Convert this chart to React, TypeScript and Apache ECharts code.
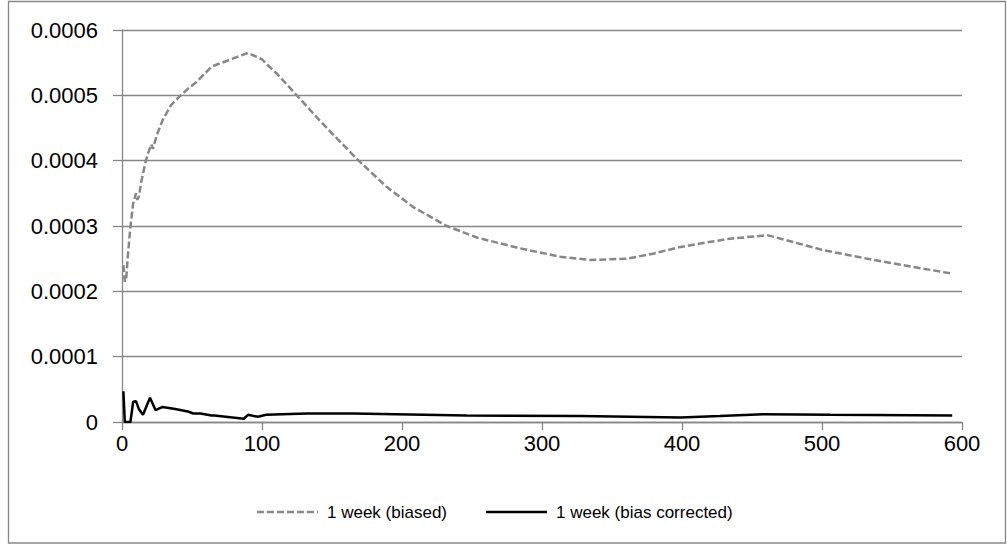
import React, { useEffect, useRef } from "react";
import * as echarts from "echarts";

const biasedX = [1, 2, 3, 4, 6, 8, 10, 11, 12, 14, 17, 20, 21, 22, 25, 29, 35, 41, 47, 53, 64, 90, 100, 112, 124, 141, 154, 169, 189, 208, 232, 254, 284, 313, 334, 361, 380, 399, 432, 461, 501, 537, 593];
const biasedY = [2.4, 2.15, 2.18, 2.5, 2.99, 3.35, 3.5, 3.4, 3.45, 3.7, 4.0, 4.2, 4.25, 4.18, 4.4, 4.62, 4.85, 4.98, 5.1, 5.2, 5.44, 5.65, 5.55, 5.3, 5.02, 4.62, 4.33, 4.0, 3.6, 3.29, 3.0, 2.82, 2.66, 2.53, 2.48, 2.5, 2.58, 2.68, 2.8, 2.86, 2.63, 2.48, 2.27];

const correctedX = [1, 2, 6, 8, 10, 12, 15, 20, 24, 29, 38, 47, 51, 56, 64, 66, 87, 90, 97, 103, 132, 165, 246, 327, 399, 427, 458, 506, 593];
const correctedY = [0.47, 0.0, 0.0, 0.31, 0.32, 0.2, 0.11, 0.37, 0.18, 0.23, 0.2, 0.16, 0.13, 0.13, 0.1, 0.1, 0.05, 0.11, 0.08, 0.11, 0.13, 0.13, 0.1, 0.09, 0.07, 0.09, 0.12, 0.11, 0.1];

const SCALE = 1e-4;
const seriesNames = ["1 week (biased)", "1 week (bias corrected)"];
const xTicks = { min: 0, max: 600, interval: 100 };
const yTicks = { min: 0, max: 0.0006, interval: 0.0001 };

const FONT = "'Liberation Sans', Arial, sans-serif";
const GRID_COLOR = "#868686";
const BIASED_COLOR = "#878787";
const DASH = [7, 3];

export default function App() {
  const ref = useRef<HTMLDivElement>(null);
  useEffect(() => {
    if (!ref.current) return;
    const chart = echarts.init(ref.current, undefined, { renderer: "svg" });
    const biased = biasedX.map((x, i) => [x, biasedY[i] * SCALE]);
    const corrected = correctedX.map((x, i) => [x, correctedY[i] * SCALE]);
    const legendY = 512;
    chart.setOption({
      animation: false,
      backgroundColor: "#ffffff",
      grid: { left: 122, right: 45, top: 30, bottom: 124, containLabel: false },
      graphic: [
        {
          type: "rect",
          shape: { x: 8.5, y: 1.5, width: 997, height: 541.5 },
          style: { fill: "none", stroke: GRID_COLOR, lineWidth: 1.3 },
          silent: true,
          z: -1,
        },
        {
          type: "line",
          shape: { x1: 257, y1: legendY, x2: 318, y2: legendY },
          style: { stroke: BIASED_COLOR, lineWidth: 2.5, lineDash: DASH },
          silent: true,
        },
        {
          type: "text",
          x: 327,
          y: legendY,
          style: {
            text: seriesNames[0],
            fontFamily: FONT,
            fontSize: 17,
            fill: "#000",
            verticalAlign: "middle",
            align: "left",
          },
          silent: true,
        },
        {
          type: "line",
          shape: { x1: 486, y1: legendY, x2: 547, y2: legendY },
          style: { stroke: "#000", lineWidth: 2.5 },
          silent: true,
        },
        {
          type: "text",
          x: 556,
          y: legendY,
          style: {
            text: seriesNames[1],
            fontFamily: FONT,
            fontSize: 17,
            fill: "#000",
            verticalAlign: "middle",
            align: "left",
          },
          silent: true,
        },
      ],
      xAxis: {
        type: "value",
        min: xTicks.min,
        max: xTicks.max,
        interval: xTicks.interval,
        axisLine: { show: true, lineStyle: { color: GRID_COLOR, width: 1.3 } },
        axisTick: { show: true, length: 8, lineStyle: { color: GRID_COLOR, width: 1.3 } },
        splitLine: { show: false },
        axisLabel: { fontFamily: FONT, fontSize: 22, color: "#000", margin: 10 },
      },
      yAxis: {
        type: "value",
        min: yTicks.min,
        max: yTicks.max,
        interval: yTicks.interval,
        axisLine: { show: true, lineStyle: { color: GRID_COLOR, width: 1.3 } },
        axisTick: { show: true, length: 9, lineStyle: { color: GRID_COLOR, width: 1.3 } },
        splitLine: { show: true, lineStyle: { color: GRID_COLOR, width: 1.3 } },
        axisLabel: {
          fontFamily: FONT,
          fontSize: 22,
          color: "#000",
          margin: 24,
          formatter: (v: number) => (v === 0 ? "0" : v.toFixed(4)),
        },
      },
      series: [
        {
          name: seriesNames[0],
          type: "line",
          data: biased,
          symbol: "none",
          color: BIASED_COLOR,
          lineStyle: { color: BIASED_COLOR, width: 2.5, type: DASH },
        },
        {
          name: seriesNames[1],
          type: "line",
          data: corrected,
          symbol: "none",
          color: "#000000",
          lineStyle: { color: "#000000", width: 2.5, type: "solid" },
        },
      ],
    });
    return () => chart.dispose();
  }, []);
  return (
    <div
      ref={ref}
      style={{ position: "fixed", left: 0, top: 0, width: 1007, height: 546, background: "#fff" }}
    />
  );
}
